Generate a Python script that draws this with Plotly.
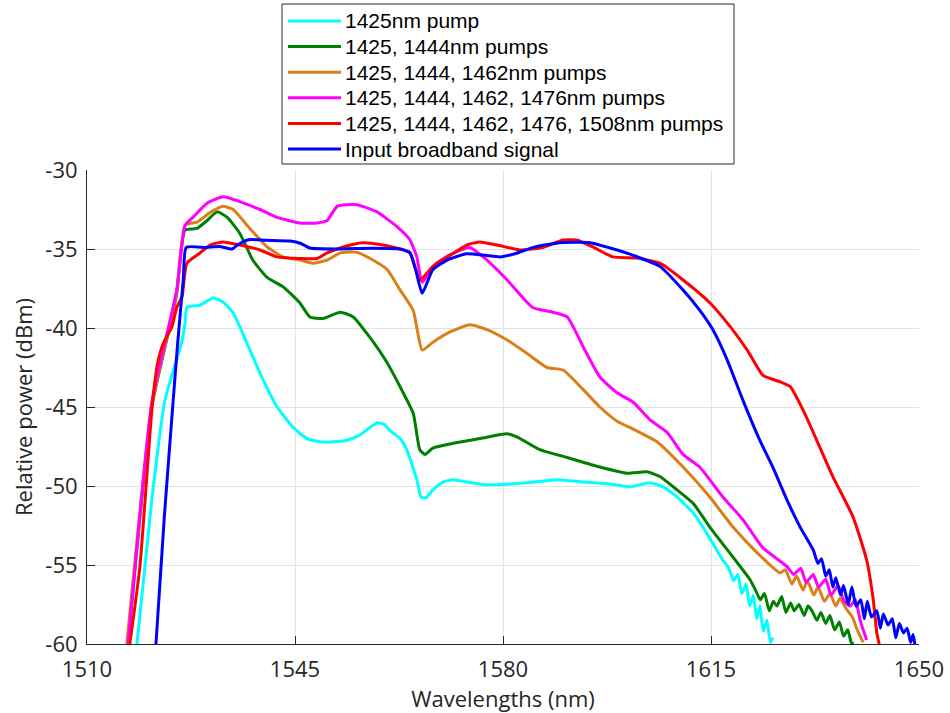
import plotly.graph_objects as go

# Raman gain spectra: output power vs wavelength for growing pump sets
cyan_wl = [1518.4, 1520.9, 1523.1, 1526.0, 1526.5, 1526.8, 1529.0, 1531.2, 1532.9, 1534.6,
           1536.9, 1539.1, 1542.0, 1544.7, 1547.0, 1549.2, 1551.5, 1553.7, 1555.8, 1557.6,
           1558.8, 1560.0, 1561.0, 1562.7, 1563.8, 1565.5, 1566.2, 1567.0, 1568.2, 1569.9,
           1571.6, 1574.0, 1576.6, 1580.0, 1584.0, 1589.1, 1593.5, 1598.5, 1601.4, 1604.7,
           1606.9, 1609.3, 1612.0, 1614.3, 1617.0, 1618.0, 1618.8, 1619.5, 1620.2, 1620.9,
           1621.5, 1622.1, 1622.7, 1623.2, 1623.8, 1624.4, 1625.0, 1625.4]
cyan_db = [-60.0, -50.9, -44.6, -40.8, -39.7, -38.7, -38.55, -38.1, -38.35, -39.05,
           -40.95, -42.85, -45.0, -46.3, -47.0, -47.2, -47.2, -47.1, -46.8, -46.3,
           -46.0, -46.1, -46.5, -47.0, -47.7, -49.6, -50.7, -50.75, -50.25, -49.75,
           -49.6, -49.75, -49.9, -49.9, -49.8, -49.6, -49.75, -49.9, -50.05, -49.8,
           -50.05, -50.7, -51.7, -53.0, -54.7, -55.2, -56.0, -55.6, -56.8, -56.2,
           -57.6, -56.9, -58.4, -57.6, -59.2, -58.5, -59.9, -59.6]

green_wl = [1516.9, 1520.9, 1523.5, 1525.1, 1526.5, 1528.5, 1530.2, 1531.9, 1533.6, 1535.7,
            1537.9, 1540.3, 1543.0, 1545.8, 1547.5, 1549.7, 1552.6, 1554.8, 1557.6, 1560.5,
            1563.2, 1564.9, 1566.0, 1566.9, 1568.2, 1571.6, 1576.6, 1580.7, 1582.4, 1586.2,
            1590.8, 1596.3, 1600.9, 1604.2, 1606.4, 1609.3, 1612.0, 1614.8, 1618.7, 1621.6,
            1622.5, 1623.3, 1624.0, 1624.8, 1625.5, 1626.1, 1626.9, 1627.6, 1628.4, 1629.0,
            1629.8, 1630.7, 1631.3, 1632.0, 1632.8, 1633.5, 1634.3, 1635.0, 1635.8, 1636.6,
            1637.3, 1638.0, 1638.6, 1639.0]
green_db = [-60.0, -45.0, -40.6, -37.8, -33.8, -33.7, -33.2, -32.65, -33.0, -34.0,
            -35.7, -36.8, -37.4, -38.4, -39.3, -39.4, -39.0, -39.3, -40.6, -42.2,
            -44.1, -45.4, -47.7, -48.0, -47.6, -47.3, -46.96, -46.7, -46.9, -47.7,
            -48.2, -48.8, -49.2, -49.1, -49.4, -50.25, -51.1, -52.6, -54.5, -55.95,
            -56.6, -57.2, -56.8, -57.9, -57.3, -57.6, -57.0, -58.0, -57.4, -57.9,
            -57.5, -58.2, -57.6, -57.9, -58.5, -58.0, -58.7, -58.2, -59.1, -58.6,
            -59.5, -59.1, -59.9, -60.0]

orange_wl = [1516.7, 1520.9, 1523.5, 1525.1, 1526.5, 1528.5, 1530.7, 1532.9, 1534.6, 1537.4,
             1540.3, 1543.0, 1545.8, 1548.0, 1550.4, 1552.6, 1555.4, 1558.1, 1560.5, 1562.7,
             1564.9, 1566.4, 1568.2, 1571.1, 1574.4, 1577.3, 1580.7, 1584.0, 1587.4, 1590.1,
             1593.5, 1596.3, 1599.2, 1601.9, 1605.9, 1610.3, 1614.8, 1618.7, 1622.7, 1626.6,
             1627.5, 1628.6, 1629.4, 1630.5, 1631.2, 1632.3, 1633.0, 1634.1, 1635.0, 1636.0,
             1636.7, 1637.8, 1638.8, 1639.6, 1640.6]
orange_db = [-60.0, -44.9, -40.5, -37.7, -33.5, -33.3, -32.7, -32.3, -32.5, -33.7,
             -34.87, -35.5, -35.7, -35.9, -35.7, -35.25, -35.2, -35.7, -36.3, -37.6,
             -38.9, -41.4, -40.9, -40.25, -39.8, -40.1, -40.76, -41.6, -42.5, -42.66,
             -43.9, -45.0, -45.9, -46.4, -47.2, -48.8, -50.7, -52.6, -54.2, -55.5,
             -55.3, -56.2, -55.7, -56.6, -56.0, -56.9, -56.4, -57.3, -56.8, -57.6,
             -57.1, -57.8, -58.3, -59.1, -59.9]

magenta_wl = [1516.9, 1520.9, 1523.5, 1525.1, 1526.5, 1527.8, 1530.2, 1532.9, 1535.7, 1539.1,
              1542.0, 1545.8, 1548.7, 1550.4, 1552.1, 1555.4, 1558.8, 1562.2, 1564.3, 1565.5,
              1566.4, 1568.5, 1570.9, 1574.4, 1577.3, 1580.7, 1585.0, 1588.4, 1590.8, 1593.5,
              1596.3, 1599.2, 1601.9, 1604.7, 1607.6, 1610.3, 1613.1, 1617.0, 1620.4, 1623.7,
              1627.8, 1628.9, 1630.1, 1631.0, 1632.2, 1633.1, 1634.3, 1635.2, 1636.4, 1637.4,
              1638.4, 1639.3, 1640.1, 1641.2]
magenta_db = [-60.0, -44.7, -40.3, -37.6, -33.5, -33.0, -32.1, -31.7, -32.0, -32.5,
              -33.0, -33.35, -33.35, -33.2, -32.3, -32.2, -32.65, -33.6, -34.4, -35.5,
              -37.1, -36.0, -35.4, -34.9, -35.7, -36.96, -38.7, -39.0, -39.3, -41.2,
              -43.1, -44.1, -44.7, -45.8, -46.6, -48.0, -48.8, -50.7, -52.15, -53.9,
              -55.1, -55.6, -55.2, -56.1, -55.6, -56.4, -55.9, -56.9, -56.3, -57.3,
              -57.6, -57.2, -58.5, -59.75]

red_wl = [1517.2, 1518.9, 1521.0, 1521.9, 1522.8, 1524.3, 1525.1, 1526.0, 1526.8, 1529.0,
          1530.7, 1532.9, 1535.7, 1539.1, 1542.0, 1545.8, 1548.7, 1550.4, 1553.1, 1556.4,
          1559.8, 1562.7, 1564.3, 1566.0, 1568.2, 1571.1, 1573.9, 1576.1, 1579.0, 1582.9,
          1586.7, 1590.1, 1592.4, 1595.1, 1598.5, 1602.5, 1606.4, 1610.3, 1614.8, 1618.2,
          1621.1, 1623.75, 1626.6, 1628.3, 1630.5, 1632.2, 1635.5, 1638.9, 1641.2, 1642.3,
          1642.9, 1643.3]
red_db = [-60.0, -55.1, -44.8, -42.2, -41.0, -39.9, -38.7, -38.0, -35.9, -35.25,
          -34.75, -34.55, -34.75, -35.06, -35.5, -35.6, -35.6, -35.25, -34.87, -34.6,
          -34.75, -35.0, -35.2, -36.96, -36.1, -35.4, -34.75, -34.55, -34.75, -35.06,
          -34.9, -34.43, -34.43, -34.87, -35.5, -35.57, -35.9, -36.96, -38.4, -39.9,
          -41.4, -43.0, -43.4, -43.7, -45.2, -46.6, -49.4, -51.96, -54.7, -57.2,
          -59.3, -60.0]

blue_wl = [1521.6, 1523.0, 1524.5, 1525.3, 1526.2, 1526.7, 1530.0, 1532.5, 1534.4, 1535.5,
           1537.4, 1540.0, 1544.2, 1546.0, 1547.5, 1552.0, 1558.0, 1562.7, 1564.35, 1565.3,
           1566.4, 1568.2, 1570.6, 1573.9, 1577.0, 1579.5, 1582.0, 1585.05, 1589.6, 1594.6,
           1599.2, 1601.9, 1606.4, 1610.3, 1613.15, 1615.3, 1617.7, 1620.4, 1623.2, 1625.4,
           1627.8, 1630.0, 1632.2, 1633.0, 1633.6, 1634.3, 1634.9, 1635.5, 1636.0, 1636.8,
           1637.3, 1638.1, 1638.7, 1639.4, 1640.2, 1640.8, 1641.3, 1642.0, 1642.9, 1643.5,
           1644.0, 1644.8, 1645.5, 1646.1, 1646.7, 1647.4, 1648.0, 1648.6, 1649.0, 1649.3]
blue_db = [-60.0, -52.0, -44.6, -40.76, -36.96, -34.9, -34.9, -34.85, -35.0, -34.7,
           -34.4, -34.45, -34.5, -34.65, -34.94, -35.0, -34.95, -35.0, -35.25, -36.3,
           -37.8, -36.3, -35.7, -35.3, -35.4, -35.5, -35.3, -34.9, -34.6, -34.6,
           -35.06, -35.4, -36.1, -37.6, -38.9, -40.1, -42.0, -44.6, -47.1, -48.8,
           -50.9, -52.6, -54.05, -54.9, -54.6, -55.7, -55.3, -56.4, -55.8, -56.9,
           -56.3, -57.5, -56.4, -57.6, -57.2, -58.4, -57.3, -58.3, -57.9, -59.0,
           -58.1, -58.8, -58.4, -59.6, -58.7, -59.3, -59.0, -59.9, -59.4, -60.0]

series = [
    ("1425nm pump", cyan_wl, cyan_db, "#00FFFF"),
    ("1425, 1444nm pumps", green_wl, green_db, "#008000"),
    ("1425, 1444, 1462nm pumps", orange_wl, orange_db, "#D98019"),
    ("1425, 1444, 1462, 1476nm pumps", magenta_wl, magenta_db, "#FF00FF"),
    ("1425, 1444, 1462, 1476, 1508nm pumps", red_wl, red_db, "#FF0000"),
    ("Input broadband signal", blue_wl, blue_db, "#0000FF"),
]

x_ticks = [1510, 1545, 1580, 1615, 1650]
y_ticks = [-60, -55, -50, -45, -40, -35, -30]
y_tick_text = ["-60", "-55", "-50", "-45", "-40", "-35", "-30"]

ink = "#262626"
font = "Open Sans"
legend_font = "Liberation Sans"

W, H = 950, 713
M_L, M_R, M_T, M_B = 87, 31, 170, 69
plot_w = W - M_L - M_R
plot_h = H - M_T - M_B


def px_to_paper_x(px):
    return (px - M_L) / plot_w


def px_to_paper_y(py):
    return (H - M_B - py) / plot_h


fig = go.Figure()
for name, wl, db, color in series:
    fig.add_trace(go.Scatter(x=wl, y=db, mode="lines", name=name, showlegend=False,
                             line=dict(color=color, width=3, shape="spline", smoothing=0.5)))

# Boxed legend above the axes
box_left, box_right, box_top, box_bottom = 282, 734, 4, 164
row0, row_step = 21, 25.6
fig.add_shape(type="rect", xref="paper", yref="paper",
              x0=px_to_paper_x(box_left), x1=px_to_paper_x(box_right),
              y0=px_to_paper_y(box_bottom), y1=px_to_paper_y(box_top),
              line=dict(color=ink, width=1), fillcolor="white", layer="above")
for i, (name, _, _, color) in enumerate(series):
    yy = px_to_paper_y(row0 + i * row_step)
    fig.add_shape(type="line", xref="paper", yref="paper",
                  x0=px_to_paper_x(288), x1=px_to_paper_x(341), y0=yy, y1=yy,
                  line=dict(color=color, width=3), layer="above")
    fig.add_annotation(x=px_to_paper_x(344), y=yy, xref="paper", yref="paper",
                       text=name, showarrow=False, xanchor="left", yanchor="middle",
                       borderpad=0,
                       font=dict(family=legend_font, size=21, color="black"))

axis_common = dict(showline=True, linecolor=ink, linewidth=1, mirror=False,
                   ticks="inside", ticklen=8, tickwidth=1, tickcolor=ink,
                   showgrid=True, gridcolor="#E3E3E3", gridwidth=1, zeroline=False,
                   tickfont=dict(family=font, size=22, color=ink))

fig.update_layout(
    width=W, height=H,
    margin=dict(l=M_L, r=M_R, t=M_T, b=M_B, autoexpand=False),
    paper_bgcolor="white", plot_bgcolor="white",
    xaxis=dict(range=[1510, 1650], tickvals=x_ticks, ticklabelstandoff=6,
               title=dict(text="Wavelengths (nm)", font=dict(family=font, size=22, color=ink),
                          standoff=2),
               **axis_common),
    yaxis=dict(range=[-60, -30], tickvals=y_ticks, ticktext=y_tick_text,
               ticklabelstandoff=4,
               title=dict(text="Relative power (dBm)", font=dict(family=font, size=22, color=ink),
                          standoff=6),
               **axis_common),
    showlegend=False,
)

fig.write_html("out.html")
